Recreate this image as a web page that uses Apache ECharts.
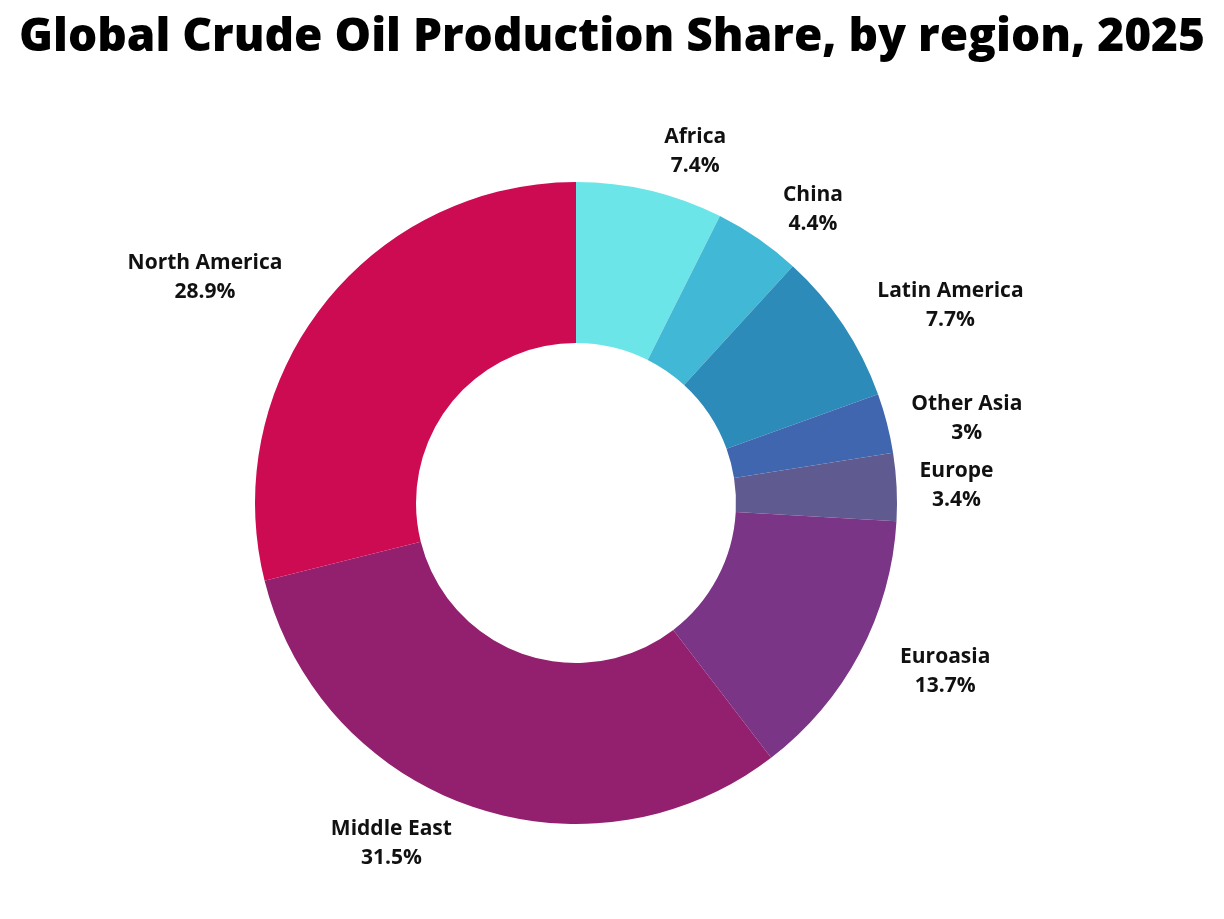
<!DOCTYPE html>
<html>
<head>
<meta charset="utf-8">
<script src="https://cdn.jsdelivr.net/npm/echarts@6/dist/echarts.min.js"></script>
<style>html,body{margin:0;padding:0;background:#fff}#chart{width:1224px;height:919px}</style>
</head>
<body>
<div id="chart"></div>
<script>
// region shares, clockwise from the top
const regions = ['Africa', 'China', 'Latin America', 'Other Asia', 'Europe', 'Euroasia', 'Middle East', 'North America'];
const shares = [7.4, 4.4, 7.7, 3, 3.4, 13.7, 31.5, 28.9];
const colors = ['#6ce5e8', '#41b8d5', '#2d8bba', '#3f66ae', '#5f5a8f', '#7a3587', '#93206e', '#cd0b53'];
// label offset from the ring per slice
const labelGap = [40, 35, 35, 20, 18, 40, 40, 45];

const chart = echarts.init(document.getElementById('chart'));
chart.setOption({
    title: {
        text: 'Global Crude Oil Production Share, by region, 2025',
        left: 'center',
        top: 10,
        textStyle: {fontFamily: 'Open Sans', fontWeight: 800, fontSize: 46, color: '#000'}
    },
    series: [{
        type: 'pie',
        radius: [160, 321],
        center: [576, 503],
        startAngle: 90,
        clockwise: true,
        animation: false,
        label: {
            show: true,
            position: 'outside',
            formatter: p => '{a|' + p.name + '}\n{a|' + p.value + '%}',
            rich: {
                a: {fontFamily: 'Open Sans', fontWeight: 'bold', fontSize: 21, lineHeight: 29, color: '#111', align: 'center'}
            }
        },
        labelLine: {show: false, length: 20, length2: 0},
        itemStyle: {borderWidth: 0},
        data: regions.map((r, i) => ({
            name: r, value: shares[i],
            itemStyle: {color: colors[i]},
            labelLine: {show: false, length: labelGap[i], length2: 0}
        }))
    }]
});
</script>
</body>
</html>
